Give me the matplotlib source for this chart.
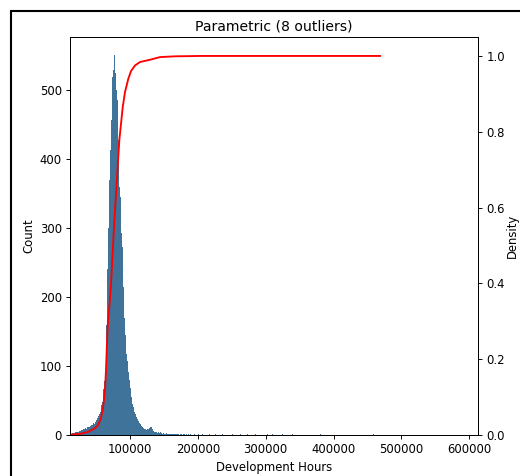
import matplotlib
matplotlib.use("Agg")
import matplotlib.pyplot as plt
import numpy as np
from matplotlib.patches import Rectangle

# ---- data ----
bin_start = 11500          # hours, left edge of first dense bin
bin_width = 1475           # hours per bin
dense_counts = [
    2, 2, 3, 3, 3, 4, 4, 5, 5, 6,          # 70-79
    6, 7, 7, 8, 9, 10, 9, 11, 12, 11,      # 80-89
    13, 15, 14, 17, 16, 19, 22, 24, 27, 30,  # 90-99
    34, 43, 48, 66, 78, 90, 160, 240, 300, 370,  # 100-109
    413, 456, 519, 529, 551, 525, 500, 486, 428, 360,  # 110-119
    345, 293, 272, 215, 170, 145, 118, 108, 92, 80,  # 120-129
    68, 55, 45, 40, 34, 30, 26, 23, 20, 17,  # 130-139
    16, 13, 12, 10, 8, 9, 7, 8, 9, 10,     # 140-149
    12, 11, 9, 6, 5, 4, 5, 3, 4, 3,        # 150-159
    4, 3, 2, 3, 2, 2, 3, 2, 1, 2,          # 160-169
    1, 2, 1, 2, 1, 2, 1, 1, 2, 0,          # 170-179
    1, 1, 0, 1, 1, 0, 1, 0, 1, 0, 1,       # 180-190
]
tail_hours = [194400, 200300, 206200, 216500, 225350, 235680, 250430,
              262230, 272550, 284350, 302050, 309430, 324180, 338930,
              380230, 458400]
tail_counts = [1, 1, 1, 1, 1, 1, 1, 1, 1, 1, 1, 1, 1, 1, 1, 1]

cdf_hours = [11500, 26250, 38050, 48375, 52800, 57225, 60175, 63125, 64600,
             66075, 67550, 69470, 71975, 75370, 77875, 81270, 84220, 89230,
             92625, 97490, 101475, 107375, 114750, 129500, 144250, 166375,
             203250, 300000, 400000, 468750]
cdf_values = [0.001, 0.003, 0.008, 0.018, 0.026, 0.045, 0.071, 0.119, 0.172,
              0.245, 0.300, 0.338, 0.396, 0.515, 0.594, 0.691, 0.778, 0.865,
              0.905, 0.940, 0.960, 0.975, 0.984, 0.990, 0.997, 0.999,
              1.0, 1.0, 1.0, 1.0]

title = "Parametric (8 outliers)"
xlabel = "Development Hours"
ylabel_left = "Count"
ylabel_right = "Density"

# ---- figure ----
dpi = 84
fig = plt.figure(figsize=(520 / dpi, 476 / dpi), dpi=dpi)
ax = fig.add_axes([70 / 520, 1 - 435 / 476, 408 / 520, 398 / 476])

bar_color = "#3f7399"
n = len(dense_counts)
edges = bin_start + bin_width * np.arange(n + 1)
ax.stairs(dense_counts, edges, fill=True, color=bar_color, linewidth=0)
ax.bar(tail_hours, tail_counts, width=bin_width, align="center",
       color=bar_color, linewidth=0)

ax.set_xlim(11500, 613000)
ax.set_ylim(0, 577)
ax.set_xticks([100000, 200000, 300000, 400000, 500000, 600000])
ax.set_yticks([0, 100, 200, 300, 400, 500])
ax.ticklabel_format(axis="x", style="plain", useOffset=False)
ax.set_xlabel(xlabel)
ax.set_ylabel(ylabel_left)
ax.set_title(title)

ax2 = ax.twinx()
ax2.plot(cdf_hours, cdf_values, color="red", linewidth=1.6)
ax2.set_ylim(0, 1.05)
ax2.set_yticks([0.0, 0.2, 0.4, 0.6, 0.8, 1.0])
ax2.set_ylabel(ylabel_right, labelpad=0.5)

# figure frame (partially cropped in the reference)
fig.patches.append(Rectangle((11 / 520, -0.2), 1.5, 1.2 - 10.5 / 476,
                             transform=fig.transFigure, fill=False,
                             edgecolor="black", linewidth=1.8))

fig.savefig("out.png", dpi=dpi)
